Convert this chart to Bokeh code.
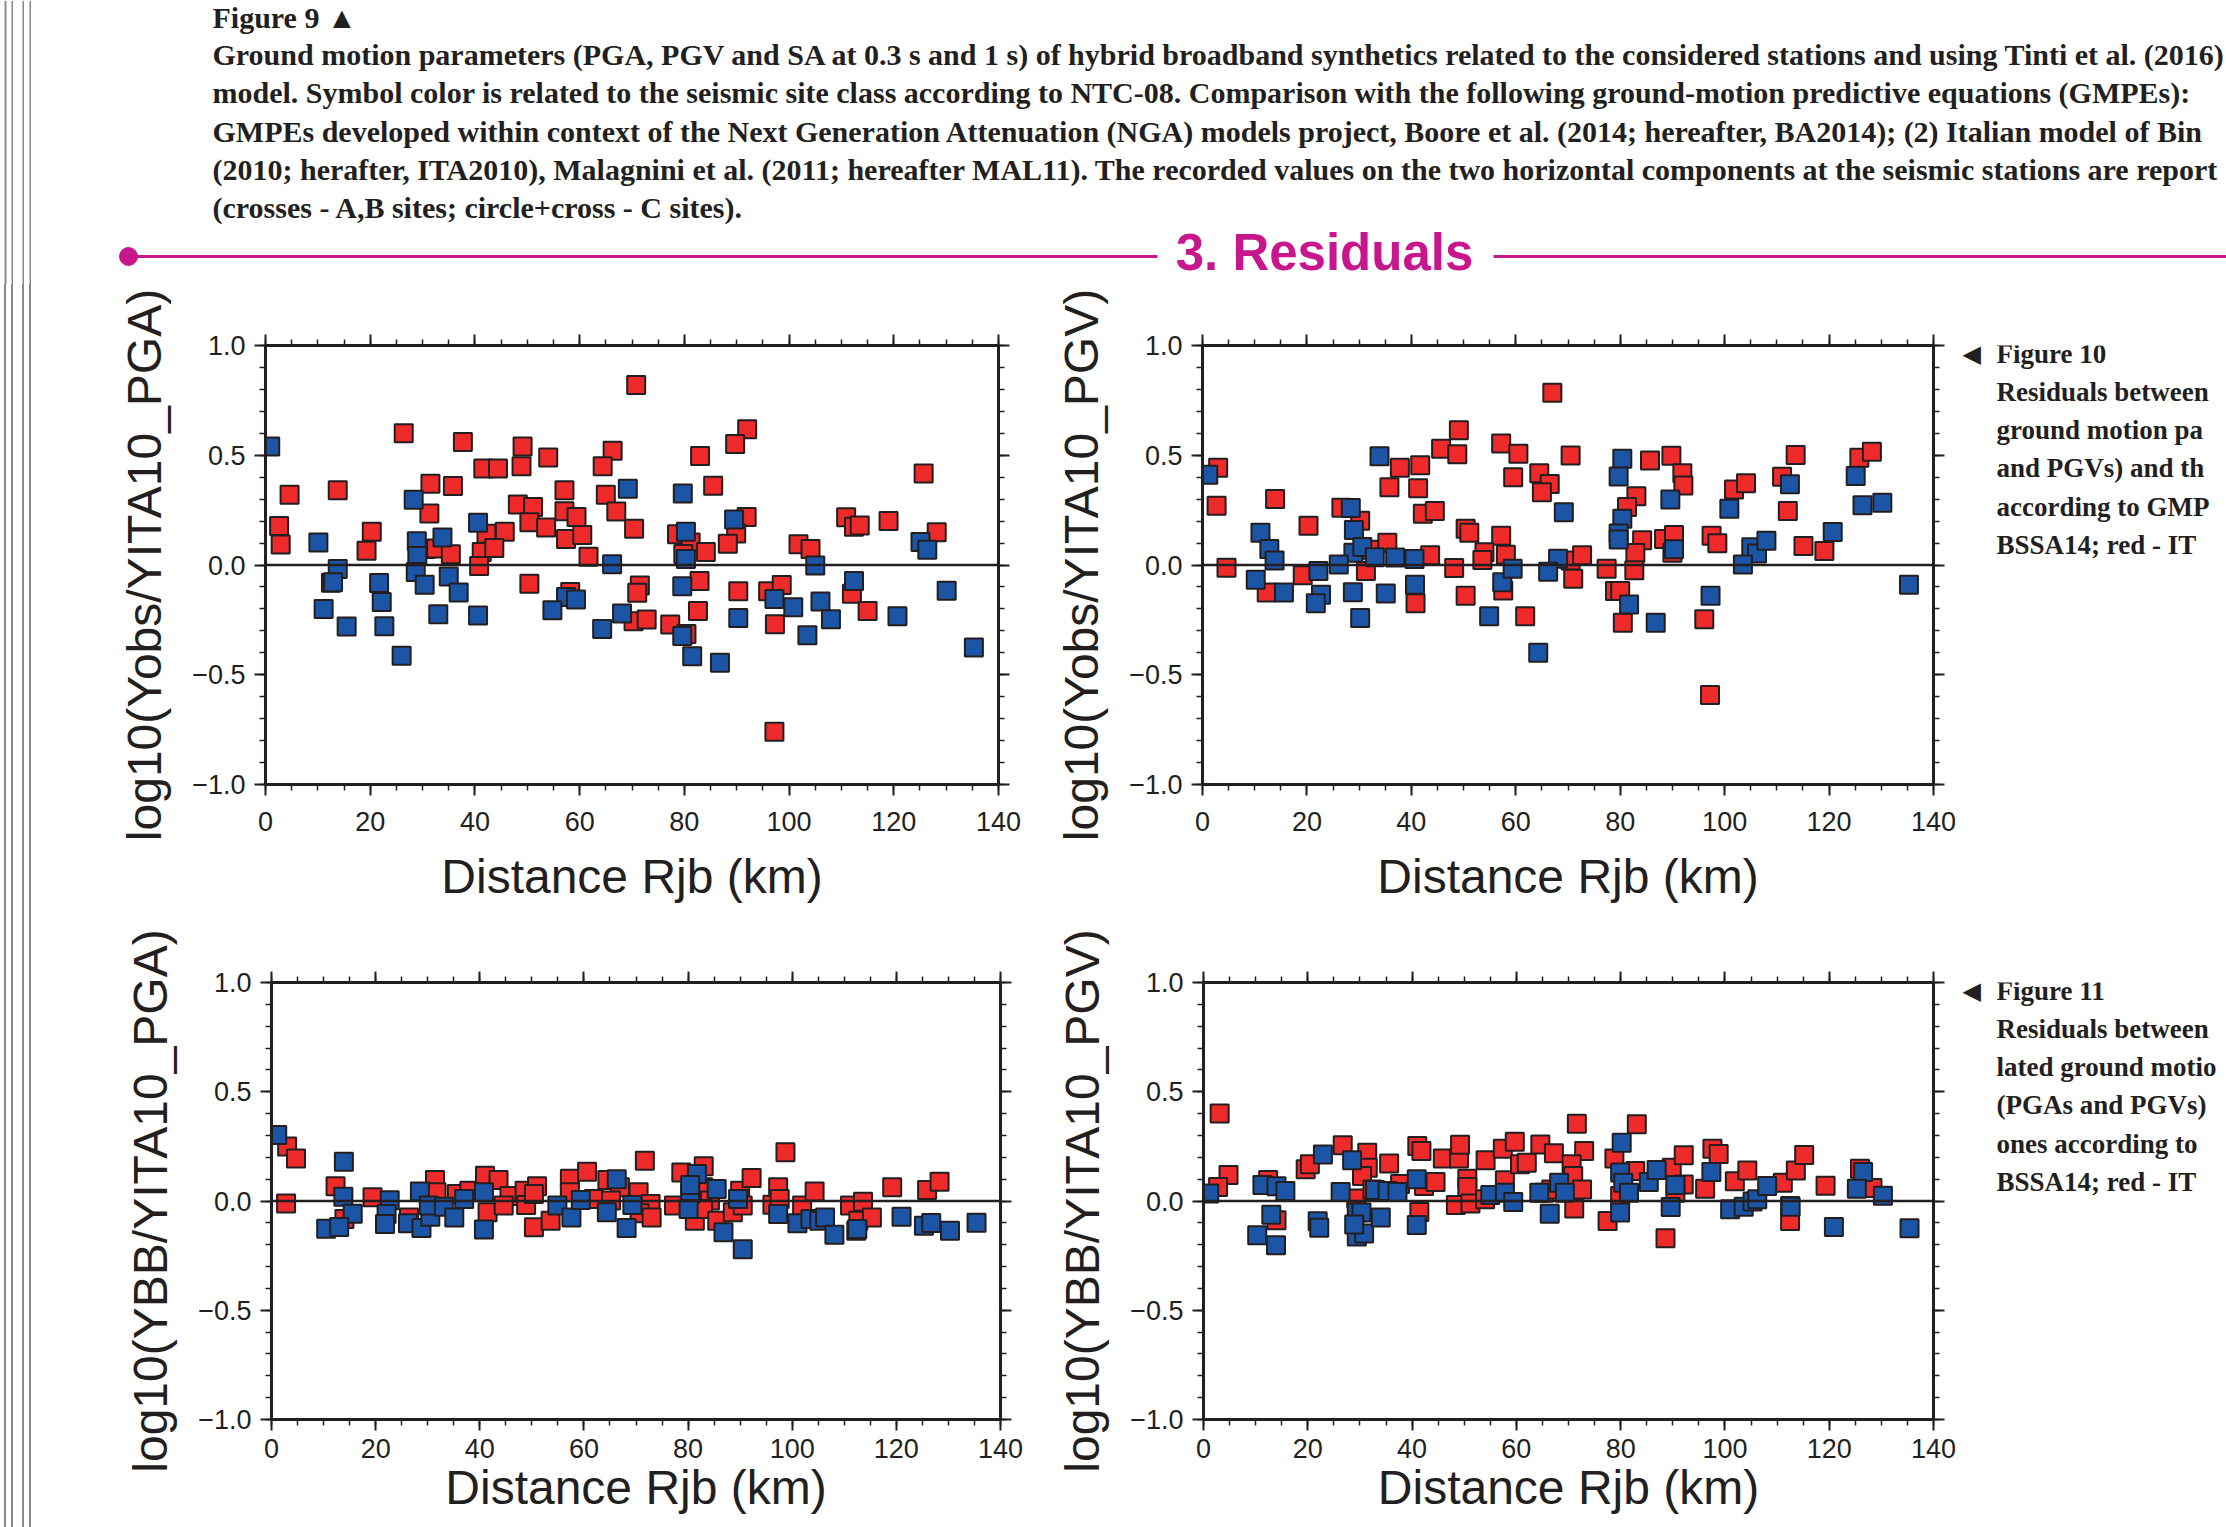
from bokeh.plotting import figure
from bokeh.models import Range1d, LinearAxis, FixedTicker, Span, CustomJSTickFormatter, Div, Label
from bokeh.layouts import row, column
from bokeh.core.properties import value
from bokeh.embed import file_html
from bokeh.resources import INLINE

# ---------------- data ----------------
# Panel 1: log10(Yobs/YITA10_PGA)
p1_red_x = [26.4, 37.7, 49.1, 54.0, 66.3, 70.8, 41.6, 44.4, 48.9, 64.4, 4.6, 13.8, 31.5, 35.8, 57.1, 65.0,
            31.3, 48.2, 51.1, 57.1, 59.4, 67.0, 2.6, 2.9, 20.3, 19.3, 50.4, 53.6, 45.7, 42.2, 57.4, 60.5,
            70.4, 30.6, 32.6, 35.4, 41.3, 43.7, 40.8, 61.7, 12.5, 50.4, 58.2, 70.3, 71.5, 71.0,
            92.0, 89.7, 83.0, 85.5, 125.7, 91.9, 78.6, 81.2, 79.8, 84.1, 89.9, 88.3, 101.8, 104.1, 110.9,
            112.4, 113.5, 119.0, 128.2, 82.9, 90.3, 96.0, 98.6, 112.0, 115.0, 82.6, 72.8, 77.3, 80.4, 97.3, 97.2]
p1_red_y = [0.60, 0.56, 0.54, 0.49, 0.52, 0.82, 0.44, 0.44, 0.45, 0.45, 0.32, 0.34, 0.37, 0.36, 0.34, 0.32,
            0.235, 0.276, 0.264, 0.245, 0.219, 0.244, 0.178, 0.093, 0.152, 0.065, 0.195, 0.171, 0.151, 0.142, 0.119, 0.137,
            0.165, 0.073, 0.075, 0.049, 0.059, 0.078, -0.005, 0.038, -0.081, -0.085, -0.123, -0.256, -0.093, -0.126,
            0.618, 0.551, 0.497, 0.361, 0.417, 0.219, 0.14, 0.102, 0.05, 0.059, 0.143, 0.097, 0.094, 0.073, 0.218,
            0.174, 0.18, 0.201, 0.149, -0.073, -0.12, -0.12, -0.091, -0.131, -0.21, -0.209, -0.248, -0.271, -0.314, -0.27, -0.76]
p1_blue_x = [0.9, 69.2, 28.3, 10.1, 40.6, 28.9, 33.8, 29.0, 66.2, 13.8, 12.9, 28.7, 30.4, 21.7, 35.0, 36.9,
             22.2, 11.1, 15.5, 22.7, 33.0, 40.6, 26.0, 57.4, 59.3, 54.8, 64.3, 68.1,
             79.7, 89.5, 80.3, 80.3, 125.1, 126.4, 105.0, 79.6, 97.2, 100.8, 106.0, 112.4, 130.1, 79.6, 90.3,
             108.0, 120.7, 103.5, 81.5, 86.8, 135.3]
p1_blue_y = [0.54, 0.347, 0.297, 0.102, 0.192, 0.108, 0.125, 0.041, 0.003, -0.018, -0.079, -0.032, -0.09, -0.082, -0.052, -0.125,
             -0.169, -0.201, -0.28, -0.279, -0.224, -0.23, -0.414, -0.146, -0.157, -0.206, -0.292, -0.221,
             0.326, 0.207, 0.152, 0.027, 0.105, 0.07, -0.002, -0.097, -0.155, -0.193, -0.166, -0.073, -0.117, -0.324, -0.241,
             -0.247, -0.233, -0.32, -0.416, -0.445, -0.376]

# Panel 2: log10(Yobs/YITA10_PGV)
p2_red_x = [3.0, 2.7, 4.6, 13.9, 20.3, 12.3, 19.2, 26.6, 30.2, 32.0, 35.4, 31.3, 43.6, 40.8, 37.8, 41.7, 35.8,
            41.3, 45.7, 49.1, 48.8, 42.2, 44.5, 48.2, 50.4, 51.1, 50.4, 57.2, 60.5, 59.5, 57.2, 54.0, 53.6, 58.1,
            57.6, 61.8, 67.0, 64.5, 66.5, 65.0, 70.5, 70.5, 71.0,
            85.7, 89.8, 91.9, 92.1, 83.1, 81.3, 84.2, 82.9, 88.4, 90.3, 90.0, 72.7, 77.4, 82.7, 79.0, 80.0, 80.5,
            97.5, 98.6, 101.8, 104.1, 96.1, 97.2, 111.0, 113.6, 112.1, 115.1, 119.1, 125.8, 128.2]
p2_red_y = [0.443, 0.27, -0.012, 0.301, 0.179, -0.125, -0.047, 0.261, 0.202, 0.07, 0.101, -0.027, 0.044, -0.174, 0.443, 0.455, 0.354,
            0.35, 0.53, 0.614, 0.505, 0.234, 0.246, -0.014, 0.165, 0.147, -0.14, 0.554, 0.507, 0.4, 0.133, 0.058, 0.023, 0.047,
            -0.116, -0.234, 0.785, 0.418, 0.369, 0.331, 0.499, 0.021, -0.063,
            0.476, 0.498, 0.418, 0.362, 0.313, 0.264, 0.113, 0.055, 0.118, 0.137, 0.056, 0.044, -0.017, -0.024, -0.119, -0.119, -0.263,
            0.133, 0.099, 0.344, 0.373, -0.247, -0.592, 0.402, 0.501, 0.246, 0.087, 0.064, 0.489, 0.516]
p2_blue_x = [1.1, 11.1, 12.8, 13.8, 10.2, 15.6, 22.2, 22.7, 21.7, 28.4, 29.0, 28.9, 30.6, 26.1, 33.0, 36.9, 40.6,
             28.8, 35.1, 40.7, 30.2, 33.9, 57.4, 59.4, 54.9, 64.3, 69.2, 68.1, 66.2,
             80.4, 79.7, 89.6, 80.4, 79.7, 79.7, 90.3, 81.7, 86.8, 100.9, 105.1, 106.2, 108.0, 103.5, 97.3,
             112.5, 120.7, 125.1, 126.4, 130.2, 135.3]
p2_blue_y = [0.411, 0.147, 0.073, 0.021, -0.067, -0.125, -0.027, -0.136, -0.174, 0.26, 0.16, 0.056, 0.082, 0.002, 0.035, 0.034, 0.027,
             -0.124, -0.13, -0.09, -0.241, 0.495, -0.079, -0.017, -0.234, -0.4, 0.24, 0.029, -0.031,
             0.484, 0.403, 0.298, 0.211, 0.144, 0.116, 0.072, -0.18, -0.263, 0.256, 0.081, 0.052, 0.11, 0.002, -0.14,
             0.368, 0.15, 0.405, 0.272, 0.284, -0.09]

# Panel 3: log10(YBB/YITA10_PGA)
p3_red_x = [3.0, 4.7, 2.8, 12.3, 14.0, 19.4, 26.4, 31.4, 31.7, 35.6, 38.0, 41.0, 41.5, 43.6, 45.7, 44.6, 48.6,
            48.9, 51.0, 50.4, 50.4, 53.6, 57.3, 57.3, 60.6, 61.9, 64.5, 66.9, 65.2, 70.5, 71.7, 72.8, 70.7, 73.0,
            77.3, 78.7, 83.0, 82.9, 84.2, 81.3, 82.9, 85.6, 88.6, 90.0, 90.5, 92.2, 96.2, 97.3, 97.6, 98.7,
            101.9, 104.3, 111.1, 113.6, 112.7, 112.3, 115.3, 119.2, 125.9, 128.3]
p3_red_y = [0.25, 0.194, -0.012, 0.067, -0.082, 0.017, -0.075, 0.096, 0.04, 0.032, 0.047, 0.116, -0.052, 0.096, 0.023, -0.021, 0.047,
            -0.018, 0.067, 0.032, -0.12, -0.09, 0.102, 0.04, 0.134, 0.009, 0.096, 0.063, 0.002, 0.04, 0.184, -0.014, -0.056, -0.075,
            -0.021, 0.131, 0.159, 0.063, 0.002, -0.09, -0.037, -0.09, -0.052, 0.047, -0.021, 0.105, -0.017, 0.063, 0.009, 0.223,
            -0.021, 0.044, -0.021, -0.003, -0.09, -0.136, -0.075, 0.063, 0.05, 0.088]
p3_blue_x = [1.1, 13.9, 13.8, 15.6, 10.5, 13.0, 22.7, 22.1, 21.8, 26.2, 28.8, 28.5, 30.5, 30.2, 33.1, 35.1, 37.0,
             40.8, 40.8, 54.9, 57.6, 59.4, 64.4, 66.3, 69.3, 68.2, 81.7, 80.4, 80.1, 80.4, 85.5, 86.8, 89.6,
             90.5, 97.3, 101.0, 103.5, 105.2, 106.3, 108.1, 112.5, 121.0, 125.3, 126.7, 130.3, 135.4]
p3_blue_y = [0.302, 0.18, 0.02, -0.058, -0.127, -0.119, 0.003, -0.059, -0.105, -0.102, -0.123, 0.044, -0.072, -0.021, -0.026, -0.075, 0.009,
             0.04, -0.13, -0.021, -0.075, 0.005, -0.052, 0.1, -0.018, -0.123, 0.123, 0.032, -0.037, 0.073, 0.055, -0.143, 0.009,
             -0.221, -0.059, -0.102, -0.082, -0.09, -0.075, -0.154, -0.128, -0.072, -0.113, -0.101, -0.136, -0.099]

# Panel 4: log10(YBB/YITA10_PGV)
p4_red_x = [3.1, 4.8, 2.8, 12.4, 14.0, 19.6, 20.4, 26.7, 31.4, 31.5, 30.4, 29.3, 32.4, 35.6, 37.7, 41.0, 41.8,
            42.3, 44.5, 41.4, 45.9, 49.0, 49.2, 50.6, 50.6, 48.4, 51.2, 54.1, 54.0, 57.4, 57.8, 59.7, 60.7, 62.0,
            64.6, 67.2, 65.3, 66.7, 71.6, 73.0, 70.6, 70.9, 72.6, 71.1, 77.5, 78.8, 79.9, 82.8, 83.1, 89.8, 92.1,
            92.1, 90.5, 88.6, 96.2, 97.6, 98.8, 101.9, 104.3, 111.1, 113.6, 115.2, 112.5, 112.5, 119.3, 125.9, 128.3]
p4_red_y = [0.401, 0.119, 0.064, 0.096, -0.088, 0.145, 0.168, 0.255, 0.221, 0.152, 0.114, 0.011, 0.053, 0.172, 0.078, 0.252, 0.229,
            0.069, 0.087, -0.05, 0.194, 0.194, 0.258, 0.102, 0.064, -0.018, -0.012, 0.186, 0.008, 0.239, 0.095, 0.271, 0.168, 0.175,
            0.259, 0.218, 0.038, 0.053, 0.354, 0.229, 0.168, 0.114, 0.053, -0.034, -0.091, 0.194, 0.023, 0.137, 0.351, 0.152, 0.209,
            0.076, 0.038, -0.171, 0.056, 0.239, 0.215, 0.09, 0.14, 0.084, 0.14, 0.21, -0.023, -0.091, 0.07, 0.148, 0.059]
p4_blue_x = [1.1, 11.3, 14.0, 15.7, 13.0, 10.3, 13.9, 22.9, 21.9, 22.2, 26.3, 28.5, 32.9, 35.3, 37.2, 29.4, 30.3,
             29.4, 30.8, 34.0, 28.9, 40.9, 40.9, 55.0, 57.8, 59.4, 64.4, 68.2, 69.3, 66.4, 80.2, 79.9, 80.5,
             81.6, 79.9, 85.4, 86.9, 90.5, 89.6, 97.4, 101.0, 103.6, 105.3, 106.2, 108.1, 112.6, 120.9, 126.5,
             125.3, 130.3, 135.4]
p4_blue_y = [0.034, 0.073, 0.067, 0.046, -0.063, -0.157, -0.203, 0.213, -0.093, -0.122, 0.041, 0.186, 0.05, 0.046, 0.041, -0.053, -0.053,
             -0.163, -0.149, -0.076, -0.107, 0.099, -0.11, 0.027, 0.038, -0.005, 0.038, 0.084, 0.038, -0.058, 0.267, 0.13, 0.084,
             0.038, -0.053, 0.087, 0.142, 0.073, -0.027, 0.133, -0.038, -0.026, -0.002, 0.008, 0.069, -0.026, -0.119, 0.133,
             0.056, 0.024, -0.125]

# axis ticks / labels
X_MAJOR = [0, 20, 40, 60, 80, 100, 120, 140]
X_MINOR = list(range(0, 141, 5))
Y_MAJOR = [-1.0, -0.5, 0.0, 0.5, 1.0]
Y_MINOR = [round(-1.0 + 0.1 * i, 1) for i in range(21)]
X_LABEL = "Distance Rjb (km)"
Y_LABELS = ["log10(Yobs/YITA10_PGA)", "log10(Yobs/YITA10_PGV)",
            "log10(YBB/YITA10_PGA)", "log10(YBB/YITA10_PGV)"]

CAPTION = [
    "Ground motion parameters (PGA, PGV and SA at 0.3 s and 1 s) of hybrid broadband synthetics related to the considered stations and using Tinti et al. (2016)",
    "model. Symbol color is related to the seismic site class according to NTC-08. Comparison with the following ground-motion predictive equations (GMPEs):",
    "GMPEs developed within context of the Next Generation Attenuation (NGA) models project, Boore et al. (2014; hereafter, BA2014); (2) Italian model of Bin",
    "(2010; herafter, ITA2010), Malagnini et al. (2011; hereafter MAL11). The recorded values on the two horizontal components at the seismic stations are report",
    "(crosses - A,B sites; circle+cross - C sites).",
]
SIDE10 = ["Residuals between", "ground motion pa", "and PGVs) and th", "according to GMP", "BSSA14; red -  IT"]
SIDE11 = ["Residuals between", "lated ground motio", "(PGAs and PGVs)", "ones according to", "BSSA14; red -  IT"]

# ---------------- styling ----------------
W, H = 2226, 1527
HEADER_H = 284
R2_TOP = 926
ROW1_H = R2_TOP - HEADER_H
ROW2_H = H - R2_TOP
STRIP_W = 60
P1_W = 980
P2_W = 918
SIDE_W = W - STRIP_W - P1_W - P2_W

RED = "#ee2a2b"
BLUE = "#1c55a5"
INK = "#231f20"
MAGENTA = "#c8168c"
SERIF = value("Liberation Serif")
BORDER = [(4, 2), (11, 1.5), (22, 1.5), (29, 1.5)]

# frame borders (page frames: p1 y 345..784, p3 y 982..1419)
BT1, BB1 = 345 - HEADER_H, R2_TOP - 784
BT2, BB2 = 982 - R2_TOP, H - 1419


def blank(width, height):
    f = figure(width=width, height=height, x_range=Range1d(0, width), y_range=Range1d(height, 0),
               output_backend="svg", toolbar_location=None, min_border=0,
               x_axis_location=None, y_axis_location=None, outline_line_color=None,
               background_fill_color="white", border_fill_color="white")
    f.grid.visible = False
    return f


def strip(height):
    inner = "".join(
        f'<div style="position:absolute;left:{x}px;top:0;width:{w}px;height:{height}px;background:#8a8a8a"></div>'
        for x, w in BORDER)
    return Div(text=f'<div style="position:relative;width:{STRIP_W}px;height:{height}px">{inner}</div>',
               width=STRIP_W, height=height, margin=0)


def side(height, bt, bb, title, lines, y0):
    s = figure(width=SIDE_W, height=height, x_range=Range1d(0, SIDE_W), y_range=Range1d(height - bb, bt),
               output_backend="svg", toolbar_location=None,
               min_border_left=0, min_border_right=0, min_border_top=bt, min_border_bottom=bb,
               x_axis_location=None, y_axis_location=None, outline_line_color=None,
               background_fill_color="white", border_fill_color="white")
    s.grid.visible = False
    s.add_layout(Label(x=4, y=y0, text="\u25c0", text_font="DejaVu Sans", text_font_size="24px",
                       text_baseline="middle", text_color=INK))
    for i, t in enumerate([title] + lines):
        s.add_layout(Label(x=38, y=y0 + 38.3 * i, text=t, text_font="Liberation Serif",
                           text_font_style="bold", text_font_size="27px", text_baseline="middle",
                           text_color=INK))
    return s


def style_axis(ax, labels, tick_standoff):
    ax.axis_line_width = 3
    ax.axis_line_color = INK
    ax.major_tick_out = 11
    ax.major_tick_in = 0
    ax.minor_tick_out = 6
    ax.minor_tick_in = 0
    ax.major_tick_line_width = 2
    ax.minor_tick_line_width = 1.5
    ax.major_tick_line_color = INK
    ax.minor_tick_line_color = INK
    ax.major_label_text_font = "Liberation Sans"
    ax.major_label_text_font_size = "27px"
    ax.major_label_text_color = INK
    ax.axis_label_text_font = "Liberation Sans"
    ax.axis_label_text_font_size = "48px"
    ax.axis_label_text_font_style = "normal"
    ax.axis_label_text_color = INK
    ax.major_label_standoff = tick_standoff if labels else 0


def panel(width, height, bl, br, bt, bb, ylabel, rx, ry, bx, by, xtick_stand, xlab_stand):
    p = figure(width=width, height=height, x_range=Range1d(0, 140), y_range=Range1d(-1, 1),
               output_backend="svg", toolbar_location=None,
               x_axis_location=None, y_axis_location=None,
               min_border_left=bl, min_border_right=br, min_border_top=bt, min_border_bottom=bb,
               outline_line_color=None, background_fill_color="white", border_fill_color="white")
    p.grid.visible = False
    yfmt = CustomJSTickFormatter(code="return tick.toFixed(1).replace('-', '\u2212');")
    nofmt = CustomJSTickFormatter(code="return '';")
    for loc in ("below", "above", "left", "right"):
        shown = loc in ("below", "left")
        if loc in ("below", "above"):
            ax = LinearAxis(ticker=FixedTicker(ticks=X_MAJOR, minor_ticks=X_MINOR))
        else:
            ax = LinearAxis(ticker=FixedTicker(ticks=Y_MAJOR, minor_ticks=Y_MINOR), formatter=yfmt)
        if not shown:
            ax.formatter = nofmt
        style_axis(ax, shown, xtick_stand if loc == "below" else 9)
        if loc == "below":
            ax.axis_label = X_LABEL
            ax.axis_label_standoff = xlab_stand
        if loc == "left":
            ax.axis_label = ylabel
            ax.axis_label_standoff = 18
        p.add_layout(ax, loc)
    p.add_layout(Span(location=0, dimension="width", line_color=INK, line_width=2.5))
    p.scatter(rx, ry, marker="square", size=18, fill_color=RED, line_color=INK, line_width=2)
    p.scatter(bx, by, marker="square", size=18, fill_color=BLUE, line_color=INK, line_width=2)
    return p


# ---------------- header ----------------
hdr = blank(W, HEADER_H)
for bx_, bw_ in BORDER:
    hdr.line(x=[bx_ + bw_ / 2, bx_ + bw_ / 2], y=[0, HEADER_H], line_color="#8a8a8a", line_width=bw_)
hdr.text(x=[212], y=[17], text=["Figure 9 \u25b2"], text_font=SERIF, text_font_style="bold",
         text_font_size="30px", text_baseline="middle", text_color=INK)
hdr.text(x=[212] * len(CAPTION), y=[54 + 38.3 * i for i in range(len(CAPTION))], text=CAPTION,
         text_font=SERIF, text_font_style="bold", text_font_size="30px", text_baseline="middle",
         text_color=INK)
hdr.line(x=[128, 1157], y=[256, 256], line_color=MAGENTA, line_width=3)
hdr.line(x=[1493, W], y=[256, 256], line_color=MAGENTA, line_width=3)
hdr.scatter(x=[128], y=[256], marker="circle", size=18, fill_color=MAGENTA, line_color=MAGENTA)
hdr.text(x=[1324], y=[252], text=["3. Residuals"], text_font=value("Liberation Sans"),
         text_font_style="bold", text_font_size="51px", text_align="center", text_baseline="middle",
         text_color=MAGENTA)

# ---------------- rows ----------------
p1 = panel(P1_W, ROW1_H, 265 - STRIP_W, STRIP_W + P1_W - 998, BT1, BB1,
           Y_LABELS[0], p1_red_x, p1_red_y, p1_blue_x, p1_blue_y, 16, 16)
p2 = panel(P2_W, ROW1_H, 1202 - STRIP_W - P1_W, W - SIDE_W - 1933, BT1, BB1,
           Y_LABELS[1], p2_red_x, p2_red_y, p2_blue_x, p2_blue_y, 16, 16)
p3 = panel(P1_W, ROW2_H, 271 - STRIP_W, STRIP_W + P1_W - 1000, BT2, BB2,
           Y_LABELS[2], p3_red_x, p3_red_y, p3_blue_x, p3_blue_y, 8, 0)
p4 = panel(P2_W, ROW2_H, 1203 - STRIP_W - P1_W, W - SIDE_W - 1933, BT2, BB2,
           Y_LABELS[3], p4_red_x, p4_red_y, p4_blue_x, p4_blue_y, 8, 0)

side1 = side(ROW1_H, BT1, BB1, "Figure 10", SIDE10, 353 - HEADER_H)
side2 = side(ROW2_H, BT2, BB2, "Figure 11", SIDE11, 990 - R2_TOP)

layout = column(hdr,
                row(strip(ROW1_H), p1, p2, side1, spacing=0),
                row(strip(ROW2_H), p3, p4, side2, spacing=0),
                spacing=0)

open("out.html", "w").write(file_html(layout, INLINE))
